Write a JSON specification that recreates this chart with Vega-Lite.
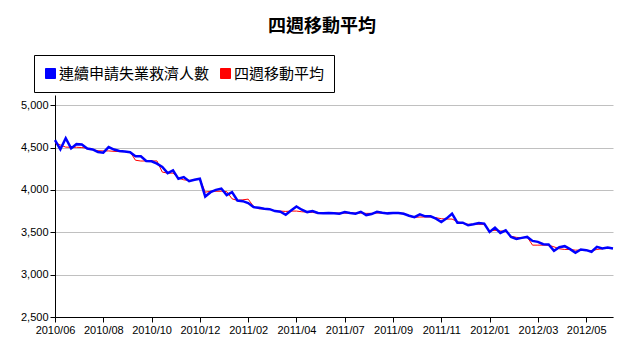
{
  "$schema": "https://vega.github.io/schema/vega-lite/v6.json",
  "width": 558,
  "height": 222,
  "autosize": {"type": "none"},
  "padding": {"left": 55, "top": 95, "right": 18, "bottom": 36},
  "background": "white",
  "config": {"view": {"stroke": null}, "font": "Liberation Sans"},
  "title": {"text": "四週移動平均", "font": "Noto Sans CJK TC", "fontSize": 18, "fontWeight": "bold", "color": "black", "anchor": "middle", "frame": "group", "dx": -12, "offset": 19},
  "data": {"values": [
    {"d": "2010/06/19", "claims": 4587, "avg": 4555},
    {"d": "2010/06/26", "claims": 4478, "avg": 4530},
    {"d": "2010/07/03", "claims": 4610, "avg": 4505},
    {"d": "2010/07/10", "claims": 4490, "avg": 4503},
    {"d": "2010/07/17", "claims": 4540, "avg": 4503},
    {"d": "2010/07/24", "claims": 4536, "avg": 4500},
    {"d": "2010/07/31", "claims": 4488, "avg": 4492},
    {"d": "2010/08/07", "claims": 4478, "avg": 4475},
    {"d": "2010/08/14", "claims": 4448, "avg": 4462},
    {"d": "2010/08/21", "claims": 4440, "avg": 4460},
    {"d": "2010/08/28", "claims": 4505, "avg": 4460},
    {"d": "2010/09/04", "claims": 4476, "avg": 4455},
    {"d": "2010/09/11", "claims": 4460, "avg": 4452},
    {"d": "2010/09/18", "claims": 4452, "avg": 4452},
    {"d": "2010/09/25", "claims": 4444, "avg": 4448},
    {"d": "2010/10/02", "claims": 4398, "avg": 4350},
    {"d": "2010/10/09", "claims": 4397, "avg": 4341},
    {"d": "2010/10/16", "claims": 4341, "avg": 4341},
    {"d": "2010/10/23", "claims": 4337, "avg": 4341},
    {"d": "2010/10/30", "claims": 4310, "avg": 4342},
    {"d": "2010/11/06", "claims": 4270, "avg": 4210},
    {"d": "2010/11/13", "claims": 4198, "avg": 4198},
    {"d": "2010/11/20", "claims": 4230, "avg": 4198},
    {"d": "2010/11/27", "claims": 4131, "avg": 4140},
    {"d": "2010/12/04", "claims": 4151, "avg": 4119},
    {"d": "2010/12/11", "claims": 4103, "avg": 4111},
    {"d": "2010/12/18", "claims": 4119, "avg": 4119},
    {"d": "2010/12/25", "claims": 4131, "avg": 4131},
    {"d": "2011/01/01", "claims": 3922, "avg": 3973},
    {"d": "2011/01/08", "claims": 3973, "avg": 3984},
    {"d": "2011/01/15", "claims": 4000, "avg": 3984},
    {"d": "2011/01/22", "claims": 4016, "avg": 3984},
    {"d": "2011/01/29", "claims": 3938, "avg": 3980},
    {"d": "2011/02/05", "claims": 3973, "avg": 3895},
    {"d": "2011/02/12", "claims": 3875, "avg": 3875},
    {"d": "2011/02/19", "claims": 3867, "avg": 3883},
    {"d": "2011/02/26", "claims": 3844, "avg": 3891},
    {"d": "2011/03/05", "claims": 3797, "avg": 3805},
    {"d": "2011/03/12", "claims": 3789, "avg": 3777},
    {"d": "2011/03/19", "claims": 3777, "avg": 3777},
    {"d": "2011/03/26", "claims": 3773, "avg": 3773},
    {"d": "2011/04/02", "claims": 3750, "avg": 3750},
    {"d": "2011/04/09", "claims": 3742, "avg": 3750},
    {"d": "2011/04/16", "claims": 3707, "avg": 3746},
    {"d": "2011/04/23", "claims": 3758, "avg": 3750},
    {"d": "2011/04/30", "claims": 3805, "avg": 3750},
    {"d": "2011/05/07", "claims": 3766, "avg": 3742},
    {"d": "2011/05/14", "claims": 3738, "avg": 3738},
    {"d": "2011/05/21", "claims": 3750, "avg": 3734},
    {"d": "2011/05/28", "claims": 3727, "avg": 3727},
    {"d": "2011/06/04", "claims": 3723, "avg": 3727},
    {"d": "2011/06/11", "claims": 3727, "avg": 3727},
    {"d": "2011/06/18", "claims": 3723, "avg": 3727},
    {"d": "2011/06/25", "claims": 3719, "avg": 3727},
    {"d": "2011/07/02", "claims": 3738, "avg": 3725},
    {"d": "2011/07/09", "claims": 3727, "avg": 3727},
    {"d": "2011/07/16", "claims": 3719, "avg": 3727},
    {"d": "2011/07/23", "claims": 3742, "avg": 3727},
    {"d": "2011/07/30", "claims": 3703, "avg": 3723},
    {"d": "2011/08/06", "claims": 3715, "avg": 3723},
    {"d": "2011/08/13", "claims": 3742, "avg": 3727},
    {"d": "2011/08/20", "claims": 3730, "avg": 3727},
    {"d": "2011/08/27", "claims": 3723, "avg": 3727},
    {"d": "2011/09/03", "claims": 3727, "avg": 3727},
    {"d": "2011/09/10", "claims": 3727, "avg": 3727},
    {"d": "2011/09/17", "claims": 3719, "avg": 3723},
    {"d": "2011/09/24", "claims": 3695, "avg": 3690},
    {"d": "2011/10/01", "claims": 3678, "avg": 3676},
    {"d": "2011/10/08", "claims": 3711, "avg": 3680},
    {"d": "2011/10/15", "claims": 3688, "avg": 3680},
    {"d": "2011/10/22", "claims": 3688, "avg": 3680},
    {"d": "2011/10/29", "claims": 3660, "avg": 3672},
    {"d": "2011/11/05", "claims": 3621, "avg": 3660},
    {"d": "2011/11/12", "claims": 3664, "avg": 3656},
    {"d": "2011/11/19", "claims": 3719, "avg": 3656},
    {"d": "2011/11/26", "claims": 3613, "avg": 3625},
    {"d": "2011/12/03", "claims": 3613, "avg": 3605},
    {"d": "2011/12/10", "claims": 3582, "avg": 3594},
    {"d": "2011/12/17", "claims": 3594, "avg": 3594},
    {"d": "2011/12/24", "claims": 3609, "avg": 3594},
    {"d": "2011/12/31", "claims": 3602, "avg": 3594},
    {"d": "2012/01/07", "claims": 3504, "avg": 3516},
    {"d": "2012/01/14", "claims": 3555, "avg": 3523},
    {"d": "2012/01/21", "claims": 3492, "avg": 3516},
    {"d": "2012/01/28", "claims": 3523, "avg": 3510},
    {"d": "2012/02/04", "claims": 3445, "avg": 3453},
    {"d": "2012/02/11", "claims": 3422, "avg": 3440},
    {"d": "2012/02/18", "claims": 3434, "avg": 3434},
    {"d": "2012/02/25", "claims": 3445, "avg": 3445},
    {"d": "2012/03/03", "claims": 3398, "avg": 3348},
    {"d": "2012/03/10", "claims": 3387, "avg": 3348},
    {"d": "2012/03/17", "claims": 3359, "avg": 3348},
    {"d": "2012/03/24", "claims": 3355, "avg": 3348},
    {"d": "2012/03/31", "claims": 3281, "avg": 3328},
    {"d": "2012/04/07", "claims": 3324, "avg": 3305},
    {"d": "2012/04/14", "claims": 3336, "avg": 3297},
    {"d": "2012/04/21", "claims": 3301, "avg": 3297},
    {"d": "2012/04/28", "claims": 3258, "avg": 3289},
    {"d": "2012/05/05", "claims": 3297, "avg": 3289},
    {"d": "2012/05/12", "claims": 3289, "avg": 3289},
    {"d": "2012/05/19", "claims": 3270, "avg": 3281},
    {"d": "2012/05/26", "claims": 3328, "avg": 3297},
    {"d": "2012/06/02", "claims": 3309, "avg": 3305},
    {"d": "2012/06/09", "claims": 3320, "avg": 3320},
    {"d": "2012/06/16", "claims": 3309, "avg": 3309}
  ]},
  "encoding": {
    "x": {
      "field": "d", "type": "temporal",
      "scale": {"domain": [{"year": 2010, "month": 6, "date": 19}, {"year": 2012, "month": 6, "date": 16}], "nice": false},
      "axis": {
        "values": [
          {"year": 2010, "month": 6, "date": 19}, {"year": 2010, "month": 8, "date": 21},
          {"year": 2010, "month": 10, "date": 23}, {"year": 2010, "month": 12, "date": 25},
          {"year": 2011, "month": 2, "date": 26}, {"year": 2011, "month": 4, "date": 30},
          {"year": 2011, "month": 7, "date": 2}, {"year": 2011, "month": 9, "date": 3},
          {"year": 2011, "month": 11, "date": 5}, {"year": 2012, "month": 1, "date": 7},
          {"year": 2012, "month": 3, "date": 10}, {"year": 2012, "month": 5, "date": 12}
        ],
        "format": "%Y/%m", "title": null, "grid": false,
        "domainColor": "black", "tickColor": "black", "tickSize": 5,
        "labelFont": "Liberation Sans", "labelFontSize": 11, "labelColor": "black",
        "labelPadding": 2, "labelOverlap": false, "labelFlush": false
      }
    }
  },
  "layer": [
    {
      "mark": {"type": "line", "strokeWidth": 1},
      "encoding": {
        "y": {
          "field": "avg", "type": "quantitative",
          "scale": {"domain": [2500, 5120], "nice": false, "zero": false},
          "axis": {
            "values": [2500, 3000, 3500, 4000, 4500, 5000], "format": ",d", "title": null,
            "grid": true, "gridColor": "#c0c0c0", "gridWidth": 1,
            "domainColor": "black", "tickColor": "black", "tickSize": 5,
            "labelFont": "Liberation Sans", "labelFontSize": 11, "labelColor": "black", "labelPadding": 2
          }
        },
        "color": {
          "datum": "四週移動平均",
          "scale": {"domain": ["連續申請失業救濟人數", "四週移動平均"], "range": ["#0000ff", "#ff0000"]},
          "legend": {
            "orient": "none", "legendX": -21, "legendY": -40, "direction": "horizontal", "title": null,
            "strokeColor": "black", "fillColor": "white", "padding": 9,
            "symbolType": "square", "symbolSize": 100, "symbolStrokeColor": "black", "symbolStrokeWidth": 1,
            "labelFont": "Noto Sans CJK TC", "labelFontSize": 15, "labelColor": "black",
            "labelOffset": 1, "columnPadding": 8, "clipHeight": 19, "labelLimit": 300,
            "encode": {"symbols": {"update": {"fill": {"scale": "color", "field": "value"}, "stroke": {"value": "black"}, "strokeWidth": {"value": 1}, "opacity": {"value": 1}}}}
          }
        }
      }
    },
    {
      "mark": {"type": "line", "strokeWidth": 2.5},
      "encoding": {
        "y": {
          "field": "claims", "type": "quantitative",
          "scale": {"domain": [2500, 5120], "nice": false, "zero": false},
          "axis": {
            "values": [2500, 3000, 3500, 4000, 4500, 5000], "format": ",d", "title": null,
            "grid": true, "gridColor": "#c0c0c0", "gridWidth": 1,
            "domainColor": "black", "tickColor": "black", "tickSize": 5,
            "labelFont": "Liberation Sans", "labelFontSize": 11, "labelColor": "black", "labelPadding": 2
          }
        },
        "color": {"datum": "連續申請失業救濟人數"}
      }
    }
  ]
}
